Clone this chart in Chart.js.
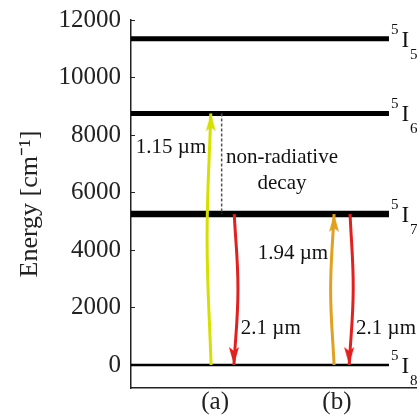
<!DOCTYPE html>
<html>
<head>
<meta charset="utf-8">
<script src="https://cdn.jsdelivr.net/npm/chart.js@4.4.0/dist/chart.umd.min.js"></script>
<style>
	html, body { margin: 0; background: #fff; overflow: hidden; }
	#wrap { width: 417px; height: 416px; }
	canvas { display: block; }
</style>
</head>
<body>
<div id="wrap"><canvas id="levelChart"></canvas></div>
<script>
// energy levels
const levelSup = ['5', '5', '5', '5'];
const levelSub = ['5', '6', '7', '8'];
const levelEnergy = [11350, 8750, 5250, 0];
const levelSpan = [0, 9.02];

// transitions (x, energy)
const pumpA_x = [2.80, 2.66, 2.79];
const pumpA_E = [0, 4375, 8750];
const decay_x = [3.17, 3.17];
const decay_E = [8750, 5250];
const emitA_x = [3.61, 3.74, 3.60];
const emitA_E = [5250, 2625, 0];
const pumpB_x = [7.10, 6.98, 7.10];
const pumpB_E = [0, 2625, 5250];
const emitB_x = [7.66, 7.77, 7.63];
const emitB_E = [5250, 2625, 0];

const categories = ['(a)', '(b)'];
const categoryX = [2.94, 7.2];
const yTicks = [0, 2000, 4000, 6000, 8000, 10000, 12000];

const serif = "'Liberation Serif', 'Times New Roman', serif";

const toPoints = (xs, ys) => xs.map((x, i) => ({ x: x, y: ys[i] }));

//arrow head as a little canvas, tip in the middle so it sits on the end point
const makeHead = (color) => {
	const c = document.createElement('canvas');
	c.width = 12;
	c.height = 40;
	const g = c.getContext('2d');
	g.fillStyle = color;
	g.beginPath();
	g.moveTo(6, 20);
	g.lineTo(11, 38);
	g.lineTo(6, 34);
	g.lineTo(1, 38);
	g.closePath();
	g.fill();
	return c;
};

const arrowSet = (xs, ys, color, up) => {
	const head = makeHead(color);
	const last = xs.length - 1;
	return {
		data: toPoints(xs, ys),
		borderColor: color,
		backgroundColor: color,
		borderWidth: 3,
		tension: 0.4,
		pointStyle: (ctx) => (ctx.dataIndex === last ? head : 'circle'),
		pointRadius: (ctx) => (ctx.dataIndex === last ? 4 : 0),
		pointRotation: up ? 0 : 180,
		order: 1,
	};
};

const datasets = [];
levelEnergy.forEach((e, i) => {
	datasets.push({
		data: toPoints(levelSpan, [e, e]),
		borderColor: '#000',
		borderWidth: i === 3 ? 2.5 : (i === 2 ? 6.5 : 5),
		pointRadius: 0,
		borderCapStyle: 'butt',
		order: 2,
	});
});
datasets.push({
	data: toPoints(decay_x, decay_E),
	borderColor: '#555',
	borderWidth: 1.5,
	borderDash: [3, 2],
	pointRadius: 0,
	order: 1,
});
datasets.push(arrowSet(pumpA_x, pumpA_E, '#d6e000', true));
datasets.push(arrowSet(emitA_x, emitA_E, '#e0211f', false));
datasets.push(arrowSet(pumpB_x, pumpB_E, '#e0a123', true));
datasets.push(arrowSet(emitB_x, emitB_E, '#e0211f', false));

// text on the diagram
const notesPlugin = {
	id: 'notes',
	afterDatasetsDraw(chart) {
		const ctx = chart.ctx;
		const xs = chart.scales.x;
		const ys = chart.scales.y;
		const notes = [
			{ text: '1.15 µm', x: 0.17, y: 7580, align: 'left' },
			{ text: 'non-radiative', x: 5.28, y: 7230, align: 'center' },
			{ text: 'decay', x: 5.28, y: 6320, align: 'center' },
			{ text: '1.94 µm', x: 5.66, y: 3890, align: 'center' },
			{ text: '2.1 µm', x: 3.84, y: 1280, align: 'left' },
			{ text: '2.1 µm', x: 7.87, y: 1280, align: 'left' },
		];
		ctx.save();
		ctx.fillStyle = '#111';
		ctx.textBaseline = 'middle';
		ctx.font = '21px ' + serif;
		notes.forEach((n) => {
			ctx.textAlign = n.align;
			ctx.fillText(n.text, xs.getPixelForValue(n.x), ys.getPixelForValue(n.y));
		});

		// level names  5I5 ...
		ctx.textAlign = 'left';
		ctx.textBaseline = 'alphabetic';
		const px = xs.getPixelForValue(levelSpan[1]);
		levelEnergy.forEach((e, i) => {
			const py = ys.getPixelForValue(e);
			ctx.font = '15px ' + serif;
			ctx.fillText(levelSup[i], px + 2, py - 5);
			ctx.font = '23px ' + serif;
			ctx.fillText('I', px + 12.5, py + 8);
			ctx.font = '15px ' + serif;
			ctx.fillText(levelSub[i], px + 21, py + 20);
		});
		ctx.restore();
	},
};

const config = {
	type: 'line',
	data: { datasets: datasets },
	options: {
		responsive: true,
		maintainAspectRatio: false,
		animation: false,
		events: [],
		layout: { autoPadding: false, padding: { top: 20, right: 0, bottom: 0, left: 0 } },
		plugins: {
			legend: { display: false },
			tooltip: { enabled: false },
		},
		scales: {
			x: {
				type: 'linear',
				min: 0,
				max: 10,
				afterBuildTicks: (scale) => {
					scale.ticks = categoryX.map((v) => ({ value: v }));
				},
				afterFit: (scale) => {
					scale.height = 28;
					scale.paddingLeft = 0;
					scale.paddingRight = 0;
				},
				ticks: {
					autoSkip: false,
					maxRotation: 0,
					padding: 2,
					color: '#222',
					font: { family: serif, size: 25, lineHeight: 1 },
					callback: (v, i) => categories[i],
				},
				grid: { drawOnChartArea: false, drawTicks: false },
				border: { color: '#222', width: 1.5 },
			},
			y: {
				min: -800,
				max: 12000,
				afterBuildTicks: (scale) => {
					scale.ticks = yTicks.map((v) => ({ value: v }));
				},
				afterFit: (scale) => {
					scale.width = 131;
					scale.paddingTop = 0;
					scale.paddingBottom = 0;
				},
				ticks: {
					padding: 14,
					color: '#222',
					font: { family: serif, size: 25 },
					callback: (v) => String(v),
				},
				grid: { drawOnChartArea: false, tickLength: -4, color: '#222' },
				border: { color: '#222', width: 1.5 },
				title: {
					display: true,
					text: 'Energy [cm⁻¹]',
					color: '#222',
					font: { family: serif, size: 26 },
					padding: { top: 15, bottom: 0 },
				},
			},
		},
	},
	plugins: [notesPlugin],
};

const ctx = document.getElementById('levelChart').getContext('2d');
const myChart = new Chart(ctx, config);
</script>
</body>
</html>
